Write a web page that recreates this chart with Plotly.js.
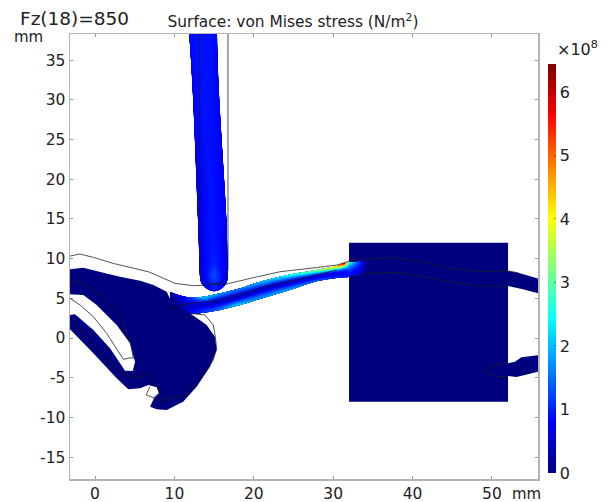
<!DOCTYPE html>
<html><head><meta charset="utf-8">
<script src="https://cdn.plot.ly/plotly-3.0.1.min.js"></script>
<style>html,body{margin:0;padding:0;background:#fff}#c{width:608px;height:502px}</style>
</head><body><div id="c"></div>
<script>
const bodyX=[-3.15,-1.47,1.05,3.15,5.67,7.35,9.03,9.7,11.96,14.07,15.1,15.32,14.48,12.8,11.1,9.03,7.77,6.93,7.43,8.1,7.77,6.72,5.67,4.2,2.73,-0.21,-3.15,-3.15,-2.52,-0.21,1.89,3.78,4.75,5.04,4.41,2.73,0.21,-1.47,-3.15];
const bodyY=[8.65,8.86,8.22,7.72,7.22,6.67,5.83,4.4,3.11,1.64,0.17,-1.51,-3.61,-6.13,-8.02,-9.07,-8.98,-8.65,-7.6,-6.97,-6.21,-5.92,-6.34,-6.46,-5.08,-1.93,1.09,2.9,2.98,1.0,-1.3,-4.12,-4.16,-2.98,-0.67,1.64,4.16,5.42,5.5];
const blockX=[32,52], blockY=[-8,12], blockZ=[[0]];
const rightUpperX=[52,53.3,55.8,55.8,53.9,52], rightUpperY=[8.44,8.22,7.5,5.63,6.13,6.55];
const rightLowerX=[52,52.9,53.7,55.8,55.8,53.1,52], rightLowerY=[-3.19,-2.98,-2.43,-2.18,-4.24,-4.91,-4.79];

const stripA=[0,1,2,3,4,5,6,7,8,9,10,11,12,13], stripB=[0,1,2,3,4];
const stripX=[9.45,11.96,13.64,15.33,17.84,20.36,22.88,25.4,27.92,30.44,31.4,32.1,33.4,34.2];
const stripY=[
 [3.02,3.02,3.19,3.44,4.03,4.79,5.54,6.33,7.14,7.55,7.65,7.7,7.85,8.0],
 [3.72,3.55,3.7,3.97,4.56,5.33,6.07,6.79,7.5,7.93,8.09,8.16,8.3,8.45],
 [4.42,4.07,4.2,4.49,5.08,5.88,6.59,7.24,7.85,8.31,8.53,8.63,8.75,8.9],
 [5.13,4.6,4.7,5.02,5.61,6.42,7.12,7.7,8.21,8.69,8.97,9.09,9.2,9.35],
 [5.83,5.12,5.2,5.54,6.13,6.96,7.64,8.15,8.56,9.07,9.41,9.55,9.65,9.8]];
const stripZ=[
 [0.1,0.9,1.2,1.5,2.2,1.8,1.9,1.8,1.5,1.2,1.1,0.9,0.4,0.05],
 [0.05,0.6,0.9,1.0,1.3,1.2,1.2,1.0,0.8,0.7,0.8,0.9,0.5,0.05],
 [0.05,0.4,0.4,0.3,0.3,0.3,0.3,0.4,0.6,0.8,1.0,1.2,0.7,0.05],
 [0.05,0.8,1.2,1.1,1.0,1.2,1.3,1.5,1.8,2.2,2.5,1.8,0.9,0.1],
 [0.1,1.2,2.2,1.9,1.6,2.0,2.3,2.8,3.4,4.6,5.9,2.6,1.1,0.1]];

const rodA=[0,1,2,3,4], rodB=[0,1,2,3,4,5];
const rodX=[[11.85,12.7,13.6,14.5,15.37],[12.3,13.1,13.95,14.8,15.6],[12.97,13.87,14.77,15.67,16.56],[13.15,14.0,14.95,15.85,16.7],[13.2,14.1,15,15.9,16.75],[13.35,14.1,15,15.9,16.6]];
const rodY=[[38.4,38.4,38.4,38.4,38.4],[31.2,31.2,31.2,31.2,31.2],[14.86,14.86,14.86,14.86,14.86],[9.5,9.5,9.5,9.5,9.5],[7.9,7.9,7.9,7.9,7.9],[7.0,6.2,5.9,6.2,7.0]];
const rodZ=[[0.85,0.9,0.9,0.9,0.85],[0.8,0.88,0.9,0.88,0.8],[0.7,0.85,0.9,0.85,0.7],[0.6,0.85,1.0,0.85,0.6],[0.6,0.9,1.3,0.9,0.6],[0.6,0.8,0.9,0.8,0.6]];

const outlines=[
 [[-3.15,-1.89,-0.21,2.3,6.72,8.19,10.08,12.38,14.07,16.59,19.5,23.3,27.08,30.44,32.03,35.05,38,41.35,44.7,48.5,52.05,53.3],[10.33,10.58,10.16,9.4,8.35,7.72,6.89,6.59,6.67,6.8,7.5,8.35,8.78,9.19,9.7,10.04,10.1,9.53,8.78,8.35,8.44,8.22]],
 [[-3.15,-1.26,1.05,3.15,4.41,4.83,4.53,3.57,1.47,-0.21,-1.89,-3.15],[7.3,6.68,5.2,2.69,-0.25,-2.56,-2.47,-2.68,0.59,2.69,4.16,5.0]],
 [[-3.15,-1.89,0.63,3.57,5.04,6.6,7.77,8.06,7.35,6.43,6.93],[2.27,1.01,-1.93,-4.44,-5.07,-4.53,-5.7,-6.97,-7.51,-7.18,-6.13]],
 [[11.96,13.85,14.9,15.15,15.32,14.9,13.22,11.1,8.19,7.35],[3.11,2.9,1.64,0.17,-1.3,-2.77,-5.29,-7.18,-7.9,-7.6]],
 [[9.5,11.96,14.9,17.84,22.04,26.24,30.44],[3.7,4.37,4.66,5.42,6.67,7.52,8.56]],
 [[32.03,35.05,38,41.35,44.7,48.5,52.05],[7.72,8.22,8.27,7.72,7.09,6.55,6.59]],
 [[13.2,13.2,13.5,14.2,15,15.9,16.4,16.75,16.75],[38.4,8.6,7.6,7,6.85,7,7.6,8.6,38.4]],
 [[52,50,48.8,50.3,52],[-3.1,-3.5,-4.16,-4.8,-4.9]]
];

const navy='#00007f';
const jet=[[0,'#00007f'],[0.125,'#0000ff'],[0.375,'#00ffff'],[0.625,'#ffff00'],[0.875,'#ff0000'],[1,'#7f0000']];
const xTicks=[0,10,20,30,40,50], yTicks=[-15,-10,-5,0,5,10,15,20,25,30,35];
const barTicks=[0,1,2,3,4,5,6];
const barMax=6.44;

const pathOf=(x,y)=>'M'+x.map((v,i)=>v+' '+y[i]).join('L');
const polyShape=(x,y)=>({type:'path',xref:'x',yref:'y',layer:'above',fillcolor:navy,line:{width:0},path:pathOf(x,y)+'Z'});
const lineShape=o=>({type:'path',xref:'x',yref:'y',layer:'above',line:{color:'rgba(25,25,35,0.75)',width:1},path:pathOf(o[0],o[1])});
const hideAxis={showgrid:false,showticklabels:'none',showline:false,startline:false,endline:false,ticks:'',title:{text:''},minorgridcount:0};
const carpet=(id,a,b,x,y)=>({type:'carpet',carpet:id,a,b,x,y,aaxis:hideAxis,baxis:hideAxis,hoverinfo:'skip'});
const cc=(id,a,b,z)=>({type:'contourcarpet',carpet:id,a,b,z,autocontour:false,zauto:false,zmin:0,zmax:barMax,colorscale:jet,
  contours:{coloring:'fill',showlines:false,start:0,end:barMax,size:0.04},line:{width:0},showscale:false,hoverinfo:'skip'});
const block={type:'heatmap',x:blockX,y:blockY,z:blockZ,zauto:false,zmin:0,zmax:barMax,colorscale:jet,hoverinfo:'skip',showscale:true,
  colorbar:{xref:'paper',yref:'paper',x:(548-70)/468,xanchor:'left',y:(479-473)/445,yanchor:'bottom',lenmode:'pixels',len:409,thicknessmode:'pixels',thickness:8,
   xpad:0,ypad:0,outlinewidth:0,tickmode:'array',tickvals:barTicks,ticktext:barTicks.map(String),ticks:'inside',ticklen:2,tickcolor:'rgba(0,0,0,0.35)',tickfont:{family:'DejaVu Sans',size:16,color:'#222'}}};

const traces=[
 block,
 carpet('strip',stripA,stripB,stripY.map(()=>stripX),stripY),
 cc('strip',stripA,stripB,stripZ),
 carpet('rod',rodA,rodB,rodX,rodY),
 cc('rod',rodA,rodB,rodZ)
];
const ax={showgrid:false,zeroline:false,showline:true,linecolor:'#b4b4b4',linewidth:1.5,mirror:'ticks',ticks:'inside',ticklen:3,tickcolor:'#999',tickwidth:1,tickfont:{family:'DejaVu Sans',size:15.5,color:'#222'}};
const note=(text,px,py,size,anchor)=>({text,xref:'paper',yref:'paper',x:(px-70)/468,y:(479-py)/445,xanchor:anchor||'left',yanchor:'middle',showarrow:false,font:{family:'DejaVu Sans',size,color:'#222'}});
Plotly.newPlot('c',traces,{
 width:608,height:502,margin:{l:70,r:70,t:34,b:23,pad:0},paper_bgcolor:'#fff',plot_bgcolor:'#fff',showlegend:false,
 shapes:[polyShape(bodyX,bodyY),polyShape(rightUpperX,rightUpperY),polyShape(rightLowerX,rightLowerY),...outlines.map(lineShape)],
 title:{text:'Surface: von Mises stress (N/m<sup>2</sup>)',x:293/608,xanchor:'center',xref:'container',y:1-22/502,yanchor:'middle',font:{family:'DejaVu Sans',size:15.4,color:'#222'}},
 xaxis:Object.assign({},ax,{range:[-3.15,55.8],tickvals:xTicks,ticktext:xTicks.map(String)}),
 yaxis:Object.assign({},ax,{range:[-17.76,38.3],tickvals:yTicks,ticktext:yTicks.map(String)}),
 annotations:[note('Fz(18)=850',18,19,18.5),note('mm',12,37,15),note('mm',510,494,15),note('×10<sup>8</sup>',555,49,16)]
},{displayModeBar:false,staticPlot:true});
</script></body></html>
